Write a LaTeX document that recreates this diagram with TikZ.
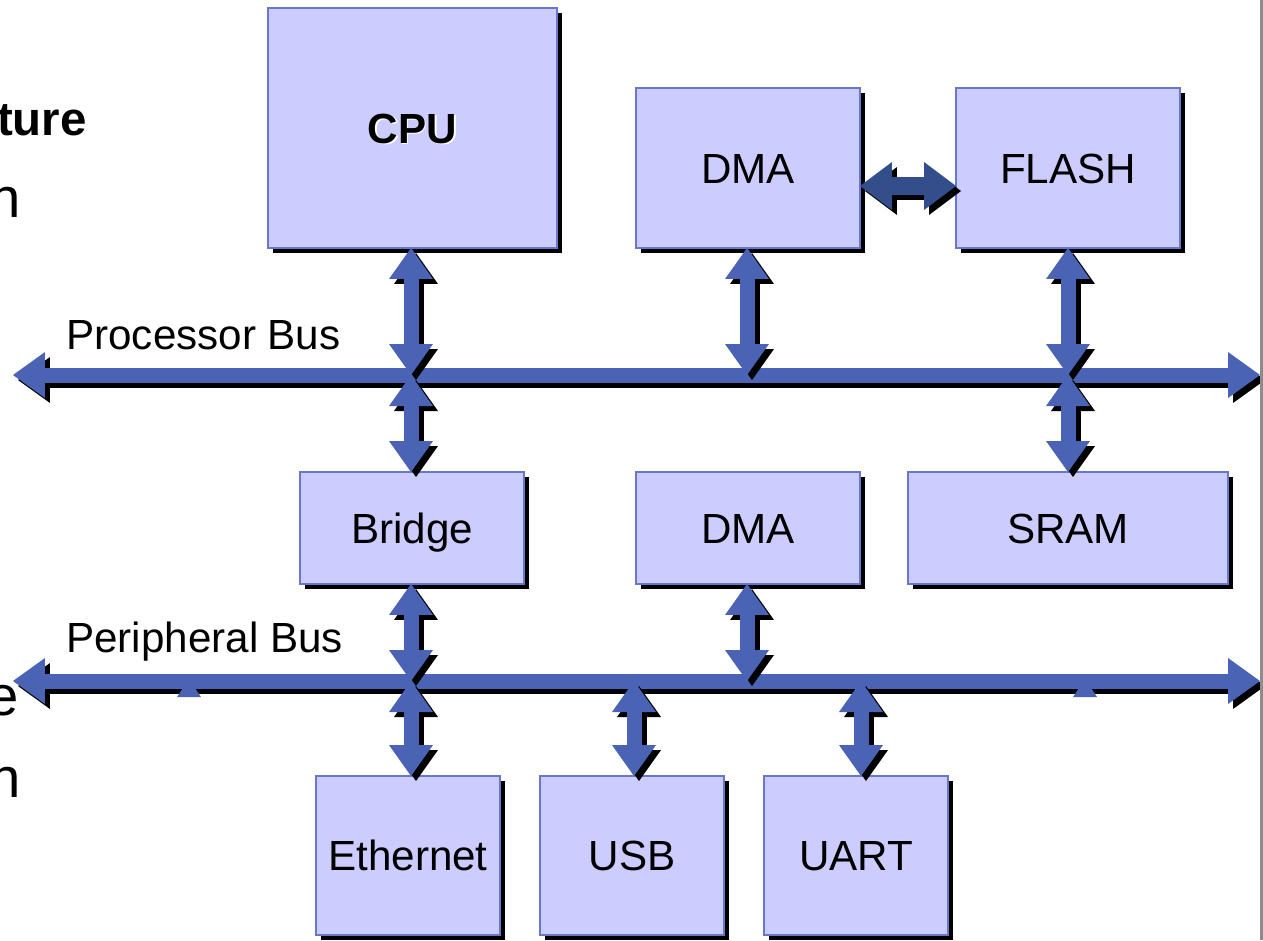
\documentclass[tikz,border=0pt]{standalone}
\usepackage{fontspec}
\setmainfont{Liberation Sans}
\usetikzlibrary{arrows.meta,shadows}

\definecolor{boxfill}{RGB}{204,204,255}
\definecolor{boxline}{RGB}{102,119,204}
\definecolor{busblue}{RGB}{74,99,180}
\definecolor{linkblue}{RGB}{52,78,140}
\definecolor{edgegray}{RGB}{140,140,140}

\tikzset{
  block/.style={draw=boxline, line width=0.03cm, fill=boxfill, inner sep=0pt, outer sep=0pt,
    font=\fontsize{24}{28}\selectfont, text height=17.3pt, text depth=0pt,
    drop shadow={shadow xshift=0.1cm, shadow yshift=-0.1cm, fill=black, opacity=1}},
  buslabel/.style={inner sep=0pt, anchor=base west, font=\fontsize{24}{28}\selectfont},
  sidetext/.style={inner sep=0pt, anchor=base east, font=\fontsize{32}{36}\selectfont},
  bus/.style={color=busblue, line width=0.3cm,
    {Triangle[width=0.92cm,length=0.64cm,line width=0pt]}-{Triangle[width=0.92cm,length=0.64cm,line width=0pt]}},
  tap/.style={color=busblue, line width=0.3cm,
    {Triangle[width=0.88cm,length=0.62cm,line width=0pt]}-{Triangle[width=0.88cm,length=0.62cm,line width=0pt]}},
  link/.style={color=linkblue, line width=0.36cm,
    {Triangle[width=0.96cm,length=0.64cm,line width=0pt]}-{Triangle[width=0.96cm,length=0.64cm,line width=0pt]}},
}

% a block arrow with its black cast shadow
\newcommand\castarrow[3]{%
  \draw[#1,black] ([xshift=0.1cm,yshift=-0.1cm]#2) -- ([xshift=0.1cm,yshift=-0.1cm]#3);
  \draw[#1] (#2) -- (#3);}

\begin{document}
\begin{tikzpicture}[x=0.02cm,y=-0.02cm]
\useasboundingbox (0,0) rectangle (1263,940);
\clip (0,0) rectangle (1263,940);

% remnants of the slide text on the left
\node[sidetext, font=\fontsize{27}{32}\selectfont\bfseries] (t1) at (87,135) {ture};
\node[sidetext] (t2) at (21,217) {n};
\node[sidetext] (t3) at (19,715) {e};
\node[sidetext] (t4) at (21,797) {n};

% blocks
\node[block, minimum width=5.78cm, minimum height=4.8cm] (cpu) at (412.5,128)
  {\bfseries\rlap{\kern0.03cm\raisebox{-0.03cm}{\color{white}CPU}}CPU};
\node[block, minimum width=4.48cm, minimum height=3.2cm] (dma1) at (748,168) {DMA};
\node[block, minimum width=4.48cm, minimum height=3.2cm] (flash) at (1068,168) {FLASH};
\node[block, minimum width=4.48cm, minimum height=2.24cm] (bridge) at (412,528) {Bridge};
\node[block, minimum width=4.48cm, minimum height=2.24cm] (dma2) at (748,528) {DMA};
\node[block, minimum width=6.4cm, minimum height=2.24cm] (sram) at (1068,528) {SRAM};
\node[block, minimum width=3.68cm, minimum height=3.18cm] (eth) at (408,855.5) {Ethernet};
\node[block, minimum width=3.68cm, minimum height=3.18cm] (usb) at (632,855.5) {USB};
\node[block, minimum width=3.68cm, minimum height=3.18cm] (uart) at (856,855.5) {UART};

% bus labels
\node[buslabel] (pbl) at (66,349) {Processor Bus};
\node[buslabel] (qbl) at (66,652) {Peripheral Bus};

% bus ends and taps
\coordinate (pl) at (13,375);
\coordinate (pr) at (1260,375);
\coordinate (ql) at (13,681);
\coordinate (qr) at (1260,681);
\coordinate (j1) at (411,375);
\coordinate (j2) at (747,375);
\coordinate (j3) at (1068,375);
\coordinate (k1) at (411,681);
\coordinate (k2) at (747,681);
\coordinate (k3) at (634,681);
\coordinate (k4) at (861,681);
\coordinate (a1) at (j1 |- cpu.south);
\coordinate (a2) at (j2 |- dma1.south);
\coordinate (a3) at (j3 |- flash.south);
\coordinate (b1) at (j1 |- bridge.north);
\coordinate (b3) at (j3 |- sram.north);
\coordinate (c1) at (k1 |- bridge.south);
\coordinate (c2) at (k2 |- dma2.south);
\coordinate (d1) at (k1 |- eth.north);
\coordinate (d3) at (k3 |- usb.north);
\coordinate (d4) at (k4 |- uart.north);
\coordinate (e1) at ([yshift=-0.36cm]dma1.east);
\coordinate (e2) at ([yshift=-0.36cm]flash.west);

% processor bus
\draw[bus,black] ([xshift=0.1cm,yshift=-0.1cm]pl) -- ([xshift=0.1cm,yshift=-0.1cm]pr);
\draw[bus] (pl) -- (pr);

% peripheral bus, with the small tips peeking out below it
\draw[bus,black] ([xshift=0.1cm,yshift=-0.1cm]ql) -- ([xshift=0.1cm,yshift=-0.1cm]qr);
\fill[busblue] (177,697) -- (189,679) -- (201,697) -- cycle;
\fill[busblue] (1073,697) -- (1085,679) -- (1097,697) -- cycle;
\draw[bus] (ql) -- (qr);

% taps onto the processor bus
\castarrow{tap}{a1}{j1}
\castarrow{tap}{j1}{b1}
\castarrow{tap}{a2}{j2}
\castarrow{tap}{a3}{j3}
\castarrow{tap}{j3}{b3}

% taps onto the peripheral bus
\castarrow{tap}{c1}{k1}
\castarrow{tap}{k1}{d1}
\castarrow{tap}{c2}{k2}
\castarrow{tap}{k3}{d3}
\castarrow{tap}{k4}{d4}

% DMA <-> FLASH
\castarrow{link}{e1}{e2}

% slide edge
\fill[edgegray] (1260,0) rectangle (1263,940);
\end{tikzpicture}
\end{document}
